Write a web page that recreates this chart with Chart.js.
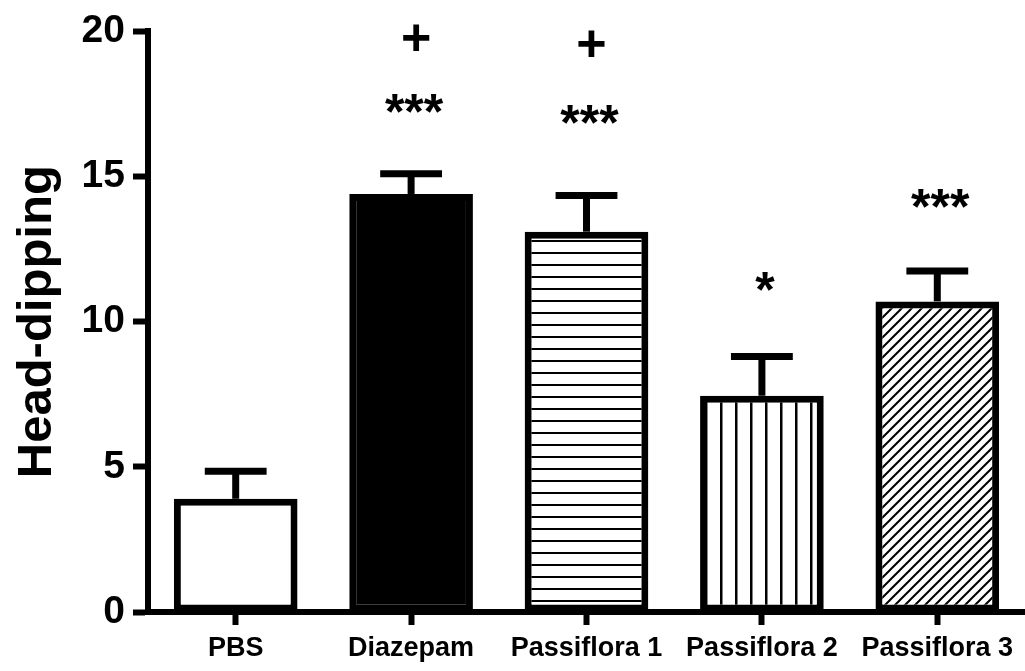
<!DOCTYPE html>
<html>
<head>
<meta charset="utf-8">
<script src="https://cdn.jsdelivr.net/npm/chart.js@4.4.1/dist/chart.umd.min.js"></script>
<style>
	body { margin: 0; background: #fff; }
	.wrap { width: 1025px; height: 671px; }
</style>
</head>
<body>
<div class="wrap"><canvas id="chart"></canvas></div>
<script>
// Data
const categories = ['PBS', 'Diazepam', 'Passiflora 1', 'Passiflora 2', 'Passiflora 3'];
const means = [3.9, 14.4, 13.1, 7.45, 10.7];
const sems = [0.95, 0.7, 1.25, 1.35, 1.05];

// Significance marks and the height (in y units) they sit at
const starLabels = ['', '***', '***', '*', '***'];
const starY = [null, 17.5, 17.15, 11.4, 14.25];
const plusLabels = ['', '+', '+', '', ''];
const plusY = [null, 19.8, 19.6, null, null];

const fontFamily = '"Liberation Sans", Arial, sans-serif';

// Build a fill pattern for the bars
function makePattern(kind) {
	const c = document.createElement('canvas');
	const ctx = c.getContext('2d');
	if (kind === 'horizontal') {
		c.width = 12; c.height = 12;
		ctx.fillStyle = '#fff'; ctx.fillRect(0, 0, 12, 12);
		ctx.fillStyle = '#000'; ctx.fillRect(0, 0, 12, 2);
	} else if (kind === 'vertical') {
		c.width = 15; c.height = 15;
		ctx.fillStyle = '#fff'; ctx.fillRect(0, 0, 15, 15);
		ctx.fillStyle = '#000'; ctx.fillRect(0, 0, 2.5, 15);
	} else {
		c.width = 10; c.height = 10;
		ctx.fillStyle = '#fff'; ctx.fillRect(0, 0, 10, 10);
		ctx.strokeStyle = '#000'; ctx.lineWidth = 2;
		ctx.beginPath();
		ctx.moveTo(-1, 11); ctx.lineTo(11, -1);
		ctx.moveTo(-6, 6); ctx.lineTo(6, -6);
		ctx.moveTo(4, 16); ctx.lineTo(16, 4);
		ctx.stroke();
	}
	return ctx.createPattern(c, 'repeat');
}

const fills = ['#fff', '#000', makePattern('horizontal'), makePattern('vertical'), makePattern('diagonal')];

// Error bars: stem from the bar top up to mean + sem, with a cap
const errorBars = {
	id: 'errorBars',
	afterDatasetsDraw(chart) {
		const ctx = chart.ctx;
		const y = chart.scales.y;
		const meta = chart.getDatasetMeta(0);
		ctx.save();
		ctx.strokeStyle = '#000';
		ctx.lineWidth = 7;
		meta.data.forEach((bar, i) => {
			const top = y.getPixelForValue(means[i] + sems[i]);
			const half = bar.width * 0.25;
			ctx.beginPath();
			ctx.moveTo(bar.x, y.getPixelForValue(means[i]));
			ctx.lineTo(bar.x, top);
			ctx.stroke();
			ctx.beginPath();
			ctx.moveTo(bar.x - half, top);
			ctx.lineTo(bar.x + half, top);
			ctx.stroke();
		});
		ctx.restore();
	}
};

// Stars and plus signs above the bars
const sigMarks = {
	id: 'sigMarks',
	afterDatasetsDraw(chart) {
		const ctx = chart.ctx;
		const y = chart.scales.y;
		const meta = chart.getDatasetMeta(0);
		const drawCentered = (text, x, yc, font) => {
			ctx.font = font;
			const m = ctx.measureText(text);
			ctx.fillText(text, x, yc + (m.actualBoundingBoxAscent - m.actualBoundingBoxDescent) / 2);
		};
		ctx.save();
		ctx.fillStyle = '#000';
		ctx.textAlign = 'center';
		ctx.textBaseline = 'alphabetic';
		meta.data.forEach((bar, i) => {
			if (starLabels[i]) {
				drawCentered(starLabels[i], bar.x + 3, y.getPixelForValue(starY[i]), 'bold 50px ' + fontFamily);
			}
			if (plusLabels[i]) {
				drawCentered(plusLabels[i], bar.x + 5, y.getPixelForValue(plusY[i]), 'bold 52px ' + fontFamily);
			}
		});
		ctx.restore();
	}
};

new Chart(document.getElementById('chart'), {
	type: 'bar',
	data: {
		labels: categories,
		datasets: [{
			data: means,
			backgroundColor: fills,
			borderColor: '#000',
			borderWidth: 7,
			borderSkipped: false,
			categoryPercentage: 1,
			barPercentage: 0.705
		}]
	},
	options: {
		responsive: true,
		maintainAspectRatio: false,
		animation: false,
		layout: { padding: { top: 30, right: -3, left: 0, bottom: 0 } },
		plugins: {
			legend: { display: false },
			tooltip: { enabled: false }
		},
		scales: {
			x: {
				afterFit: (scale) => { scale.height = 59; },
				border: { display: true, color: '#000', width: 6 },
				grid: { offset: false, drawOnChartArea: false, drawTicks: true, tickLength: 13, tickWidth: 6, tickColor: '#000', color: '#000' },
				ticks: { color: '#000', padding: 7, font: { family: fontFamily, size: 27, weight: 'bold' } }
			},
			y: {
				min: 0,
				max: 20,
				afterFit: (scale) => { scale.width = 148; },
				border: { display: true, color: '#000', width: 6 },
				grid: { drawOnChartArea: false, drawTicks: true, tickLength: 15, tickWidth: 6, tickColor: '#000', color: '#000' },
				ticks: { stepSize: 5, color: '#000', padding: 8, font: { family: fontFamily, size: 39, weight: 'bold' } },
				title: {
					display: true,
					text: 'Head-dipping',
					color: '#000',
					padding: { top: 8, bottom: 0 },
					font: { family: fontFamily, size: 49, weight: 'bold' }
				}
			}
		}
	},
	plugins: [errorBars, sigMarks]
});
</script>
</body>
</html>
